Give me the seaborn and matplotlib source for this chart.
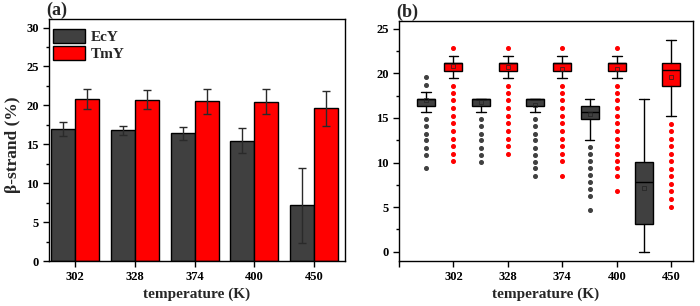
import pandas as pd
import seaborn as sns
import matplotlib.pyplot as plt
from matplotlib.ticker import MultipleLocator

# ---- data ----
temps = ['302', '328', '374', '400', '450']
proteins = ['EcY', 'TmY']

ecy_mean = [17.0, 16.8, 16.4, 15.45, 7.15]
ecy_err = [0.9, 0.55, 0.8, 1.6, 4.85]
tmy_mean = [20.85, 20.75, 20.5, 20.45, 19.65]
tmy_err = [1.3, 1.2, 1.65, 1.6, 2.25]

# box statistics for panel (b)
ecy_q1 = [16.36, 16.36, 16.36, 14.87, 3.07]
ecy_med = [17.15, 17.15, 17.15, 15.69, 7.8]
ecy_q3 = [17.15, 17.15, 17.15, 16.39, 10.1]
ecy_lo = [15.65, 15.65, 15.65, 12.5, 0.0]
ecy_hi = [17.93, 17.15, 17.15, 17.18, 17.18]
ecy_fliers = [
    [19.54, 18.72, 14.87, 14.08, 13.25, 12.51, 11.68, 10.9, 9.33],
    [14.87, 14.08, 13.25, 12.51, 11.68, 10.9, 10.11],
    [14.87, 14.08, 13.25, 12.51, 11.68, 10.9, 10.11, 9.33, 8.54],
    [11.72, 10.93, 10.15, 9.36, 8.58, 7.83, 7.04, 6.25, 4.68],
    [],
]

tmy_q1 = [20.32, 20.32, 20.32, 20.32, 18.64]
tmy_med = [21.19, 21.19, 21.19, 21.19, 20.37]
tmy_q3 = [21.19, 21.19, 21.19, 21.19, 21.15]
tmy_lo = [19.47, 19.47, 19.47, 19.47, 15.24]
tmy_hi = [22.0, 22.0, 22.0, 22.0, 23.7]
tmy_fliers = [
    [22.84, 18.64, 17.78, 16.96, 16.1, 15.24, 14.42, 13.55, 12.69, 11.87, 11.0, 10.15],
    [22.84, 18.64, 17.78, 16.96, 16.1, 15.24, 14.42, 13.55, 12.69, 11.87, 11.0],
    [22.84, 18.64, 17.78, 16.96, 16.1, 15.24, 14.42, 13.55, 12.69, 11.87, 11.0, 10.18, 8.47],
    [22.84, 18.64, 17.78, 16.96, 16.1, 15.24, 14.42, 13.55, 12.69, 11.87, 11.0, 10.18,
     9.33, 8.47, 6.78],
    [14.37, 13.55, 12.69, 11.87, 11.0, 10.18, 9.32, 8.47, 7.6, 6.78, 5.92, 5.05],
]

colors = {'EcY': '#404040', 'TmY': '#ff0000'}

sns.set_theme(style='ticks')
plt.rcParams['font.family'] = ['Liberation Serif', 'DejaVu Serif']
plt.rcParams['font.weight'] = 'bold'
plt.rcParams['axes.labelweight'] = 'bold'
plt.rcParams['axes.linewidth'] = 1.0
plt.rcParams['xtick.major.width'] = 1.0
plt.rcParams['ytick.major.width'] = 1.0
plt.rcParams['xtick.color'] = 'black'
plt.rcParams['ytick.color'] = 'black'

fig = plt.figure(figsize=(7, 3.06), dpi=100)
ax1 = fig.add_axes([0.07, 0.147, 0.423, 0.791])
ax2 = fig.add_axes([0.570, 0.147, 0.420, 0.785])

# ---- panel (a): bar chart ----
df = pd.DataFrame({
    'temperature': temps * 2,
    'protein': ['EcY'] * 5 + ['TmY'] * 5,
    'value': ecy_mean + tmy_mean,
    'err': ecy_err + tmy_err,
})
sns.barplot(data=df, x='temperature', y='value', hue='protein', palette=colors,
            saturation=1, errorbar=None, edgecolor='black', linewidth=1.0,
            width=0.8, ax=ax1)

# error bars at the bar centres
for bars, prot in zip(ax1.containers, proteins):
    sub = df[df.protein == prot]
    xs = [b.get_x() + b.get_width() / 2 for b in bars]
    ax1.errorbar(xs, sub['value'], yerr=sub['err'], fmt='none', ecolor='#2a2a2a',
                 elinewidth=1.0, capsize=3, capthick=1.0)

ax1.set_xlim(-0.44, 4.52)
ax1.set_ylim(0, 31.1)
ax1.yaxis.set_major_locator(MultipleLocator(5))
ax1.yaxis.set_minor_locator(MultipleLocator(2.5))
ax1.set_xlabel('temperature (K)', fontsize=11, fontweight='bold', labelpad=3)
ax1.set_ylabel('β-strand (%)', fontsize=12.5, fontweight='bold')
ax1.yaxis.set_label_coords(-0.095, 0.48)
ax1.tick_params(axis='both', direction='out', length=4, labelsize=9)
ax1.tick_params(axis='y', which='minor', direction='out', length=2.5, width=1.0)
ax1.set_title('(a)', loc='left', fontsize=13, fontweight='bold', x=-0.01, pad=1)
leg = ax1.legend(loc='upper left', bbox_to_anchor=(0.0, 0.975), frameon=False,
                 fontsize=11, handlelength=2.1, handleheight=1.05, labelspacing=0.1,
                 borderaxespad=0.0, handletextpad=0.4, borderpad=0.25)
for t in leg.get_texts():
    t.set_fontweight('bold')
for s in ax1.spines.values():
    s.set_visible(True)
    s.set_color('black')

# ---- panel (b): box plots ----
def make_stats(q1, med, q3, lo, hi, fl, mean):
    return [dict(q1=a, med=b, q3=c, whislo=d, whishi=e, fliers=f, mean=g)
            for a, b, c, d, e, f, g in zip(q1, med, q3, lo, hi, fl, mean)]

groups = [
    ('EcY', make_stats(ecy_q1, ecy_med, ecy_q3, ecy_lo, ecy_hi, ecy_fliers, ecy_mean), -0.5),
    ('TmY', make_stats(tmy_q1, tmy_med, tmy_q3, tmy_lo, tmy_hi, tmy_fliers, tmy_mean), 0.0),
]
for prot, stats, shift in groups:
    c = colors[prot]
    pos = [i + shift for i in range(len(temps))]
    ax2.bxp(stats, positions=pos, widths=0.33, patch_artist=True, showmeans=True,
            boxprops=dict(facecolor=c, edgecolor='black', linewidth=1.0),
            medianprops=dict(color='black', linewidth=1.0),
            whiskerprops=dict(color='black', linewidth=1.0),
            capprops=dict(color='black', linewidth=1.0),
            capwidths=0.18,
            meanprops=dict(marker='s', markersize=2.5, markerfacecolor='none',
                           markeredgecolor='#222222', markeredgewidth=0.5),
            flierprops=dict(marker='o', markersize=2.6, markerfacecolor=c,
                            markeredgecolor=c, linestyle='none'))

ax2.set_xlim(-1.0, 4.4)
ax2.set_ylim(-1.05, 25.9)
ax2.set_xticks([-1, 0, 1, 2, 3, 4])
ax2.set_xticklabels([''] + temps)
ax2.yaxis.set_major_locator(MultipleLocator(5))
ax2.yaxis.set_minor_locator(MultipleLocator(2.5))
ax2.set_xlabel('temperature (K)', fontsize=11, fontweight='bold', labelpad=3)
ax2.tick_params(axis='both', direction='out', length=4, labelsize=9)
ax2.tick_params(axis='y', which='minor', direction='out', length=2.5, width=1.0)
ax2.set_title('(b)', loc='left', fontsize=13, fontweight='bold', x=-0.01, pad=1)
for s in ax2.spines.values():
    s.set_visible(True)
    s.set_color('black')

for ax in (ax1, ax2):
    for lab in ax.get_xticklabels() + ax.get_yticklabels():
        lab.set_fontweight('bold')

fig.savefig('out.png', dpi=100)
